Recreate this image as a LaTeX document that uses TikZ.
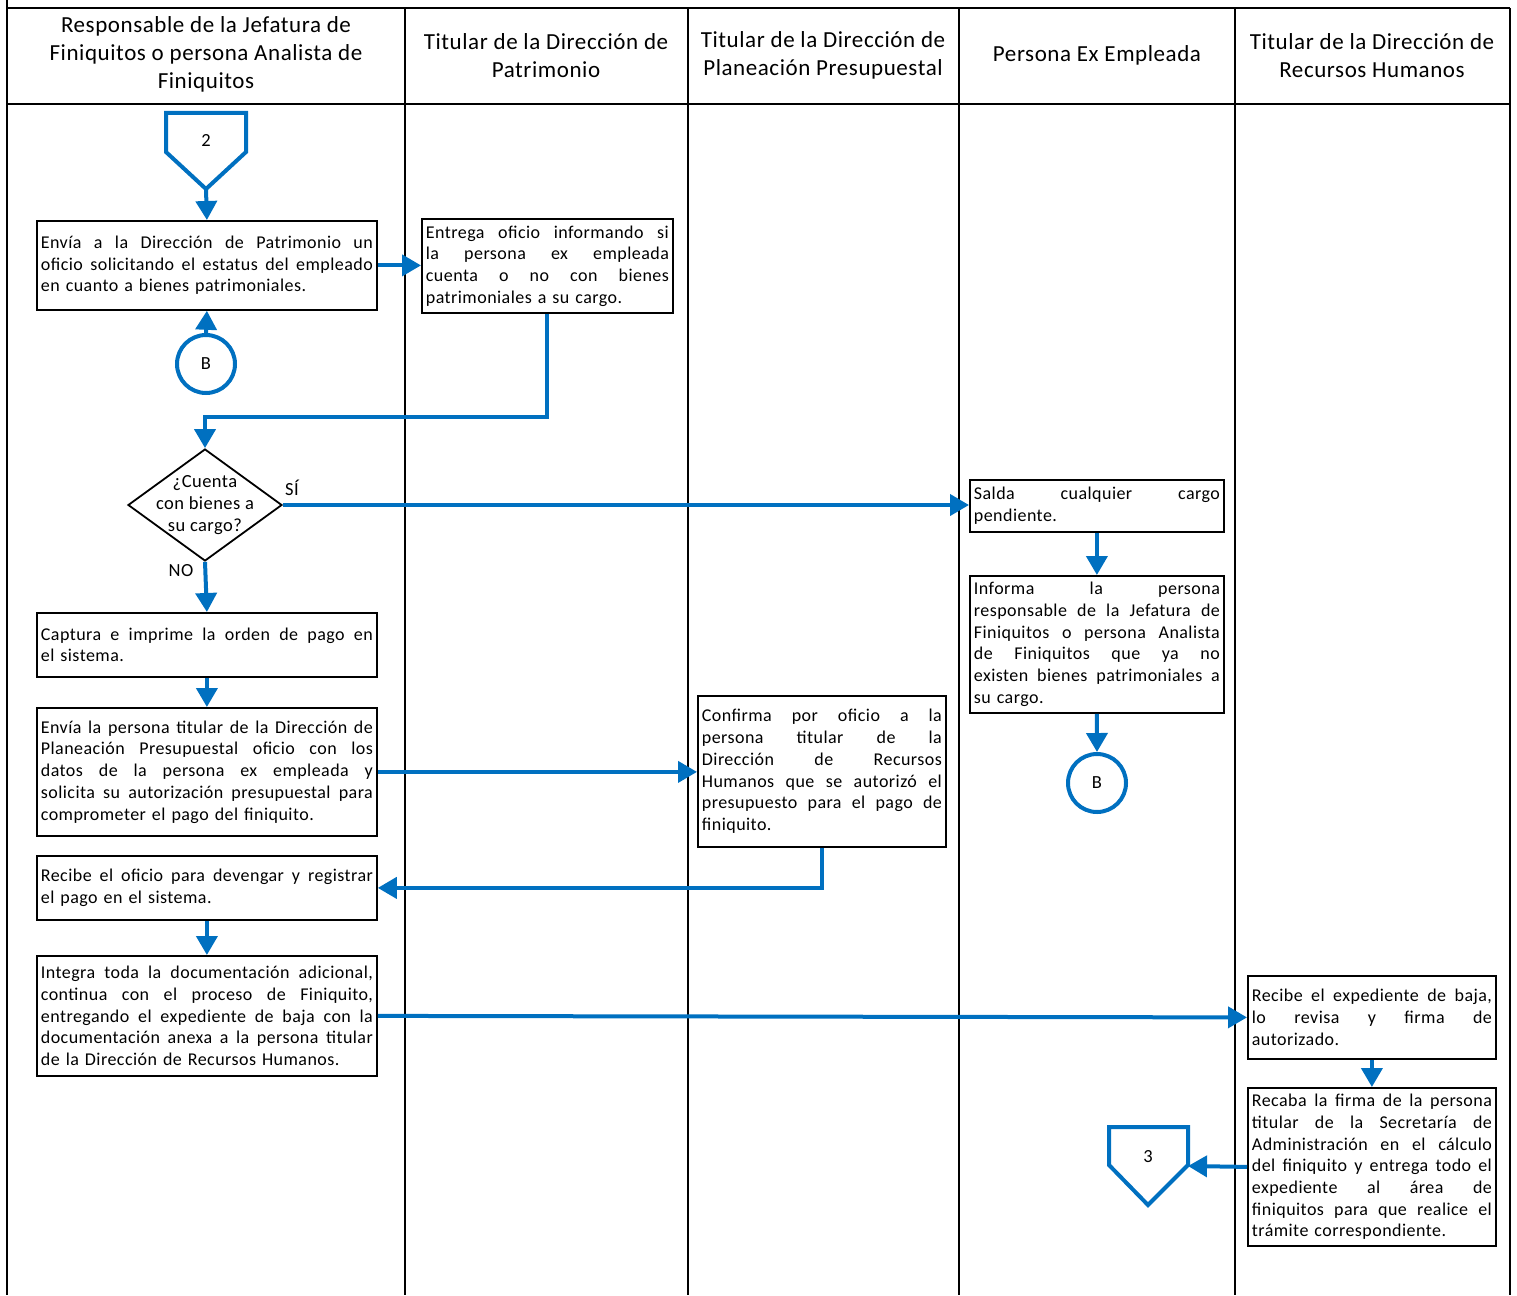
\documentclass[tikz,border=0pt]{standalone}
\usepackage{fontspec}
\setmainfont[LetterSpace=2.5]{Carlito}
\usetikzlibrary{arrows.meta,shapes.geometric}
\definecolor{flowblue}{RGB}{0,112,192}
\makeatletter
\def\jl@mark{@@}
\def\jl#1{\leavevmode\hbox to\hsize{\jl@first#1 @@ }\\}
\def\jl@first#1 {#1\jl@next}
\def\jl@next#1 {\def\jl@tmp{#1}\ifx\jl@tmp\jl@mark\else\hfill#1\expandafter\jl@next\fi}
\makeatother
\begin{document}
\begin{tikzpicture}[x=1pt,y=-1pt,
  lane/.style={line width=1.6pt,black},
  hdr/.style={align=center,font=\fontsize{23}{28}\selectfont,inner sep=0pt},
  box/.style={draw,line width=1.8pt,anchor=north west,inner xsep=4pt,inner ysep=0pt,align=left,font=\fontsize{18}{21.7}\selectfont},
  arr/.style={draw=flowblue,line width=4pt,-{Triangle[length=19pt,width=21pt]}},
  conn/.style={draw=flowblue,line width=4pt,circle,minimum size=58pt,inner sep=0pt,font=\fontsize{18.5}{20}\selectfont},
  offp/.style={draw=flowblue,line width=4pt,line join=miter},
  lbl/.style={font=\fontsize{18.5}{21.7}\selectfont,inner sep=0pt}
]
\useasboundingbox (0,0) rectangle (1517,1295);
% lanes
\draw[lane] (7,0) -- (7,1295);
\draw[lane] (7,8) -- (1510,8);
\draw[lane] (7,104) -- (1510,104);
\foreach \xx in {405,688,959,1235,1510} {\draw[lane] (\xx,8) -- (\xx,1295);}
% headers
\node[hdr] (h1) at (206,54) {Responsable de la Jefatura de\\Finiquitos o persona Analista de\\Finiquitos};
\node[hdr] (h2) at (546,56) {Titular de la Dirección de\\Patrimonio};
\node[hdr] (h3) at (823,55) {Titular de la Dirección de\\Planeación Presupuestal};
\node[hdr] (h4) at (1097,55) {Persona Ex Empleada};
\node[hdr] (h5) at (1372,56) {Titular de la Dirección de\\Recursos Humanos};
% off-page connector 2
\draw[offp] (166,113) -- (246,113) -- (246,152) -- (206,189) -- (166,152) -- cycle;
\node[lbl] (n2) at (206,140) {2};
\coordinate (p2) at (206,189);
% boxes
\node[box,text width=332pt,minimum height=89pt] (b1) at (36,220) {\jl{Envía a la Dirección de Patrimonio un}\jl{oficio solicitando el estatus del empleado}en cuanto a bienes patrimoniales.};
\node[box,text width=243pt,minimum height=94pt] (b2) at (421,218) {\jl{Entrega oficio informando si}\jl{la persona ex empleada}\jl{cuenta o no con bienes}patrimoniales a su cargo.};
\node[conn] (B1) at (206,364) {B};
\node[draw,line width=1.8pt,diamond,minimum width=154pt,minimum height=112pt,inner sep=0pt] (d) at (205,505) {};
\node[lbl,align=center] (dt) at (205,505) {¿Cuenta\\con bienes a\\su cargo?};
\node[lbl] (si) at (292,488) {SÍ};
\node[lbl] (no) at (181,571) {NO};
\node[box,text width=246pt,minimum height=52pt] (sal) at (969,479) {\jl{Salda cualquier cargo}pendiente.};
\node[box,text width=246pt,minimum height=137pt] (inf) at (969,575) {\jl{Informa la persona}\jl{responsable de la Jefatura de}\jl{Finiquitos o persona Analista}\jl{de Finiquitos que ya no}\jl{existen bienes patrimoniales a}su cargo.};
\node[conn] (B2) at (1097,783) {B};
\node[box,text width=332pt,minimum height=64pt] (cap) at (36,612) {\jl{Captura e imprime la orden de pago en}el sistema.};
\node[box,text width=332pt,minimum height=128pt] (env) at (36,707) {\jl{Envía la persona titular de la Dirección de}\jl{Planeación Presupuestal oficio con los}\jl{datos de la persona ex empleada y}\jl{solicita su autorización presupuestal para}comprometer el pago del finiquito.};
\node[box,text width=240pt,minimum height=151pt] (conf) at (697,695) {\jl{Confirma por oficio a la}\jl{persona titular de la}\jl{Dirección de Recursos}\jl{Humanos que se autorizó el}\jl{presupuesto para el pago de}finiquito.};
\node[box,text width=332pt,minimum height=64pt] (rec) at (36,855) {\jl{Recibe el oficio para devengar y registrar}el pago en el sistema.};
\node[box,text width=332pt,minimum height=120pt] (integ) at (36,955) {\jl{Integra toda la documentación adicional,}\jl{continua con el proceso de Finiquito,}\jl{entregando el expediente de baja con la}\jl{documentación anexa a la persona titular}de la Dirección de Recursos Humanos.};
\node[box,text width=240pt,minimum height=83pt] (rh1) at (1247,975) {\jl{Recibe el expediente de baja,}\jl{lo revisa y firma de}autorizado.};
\node[box,text width=240pt,minimum height=158pt] (rh2) at (1247,1087) {\jl{Recaba la firma de la persona}\jl{titular de la Secretaría de}\jl{Administración en el cálculo}\jl{del finiquito y entrega todo el}\jl{expediente al área de}\jl{finiquitos para que realice el}trámite correspondiente.};
% off-page connector 3
\draw[offp] (1109,1127) -- (1188,1127) -- (1188,1165) -- (1148,1205) -- (1109,1165) -- cycle;
\node[lbl] (n3) at (1148,1157) {3};
\coordinate (p3) at (1188,1166);
% connectors
\coordinate (k1) at (205,417);
\draw[arr] (p2) -- (b1.north);
\draw[arr] (B1.north) -- (b1.south);
\draw[arr] (b1.east) -- (b1.east -| b2.west);
\draw[arr] (b2.south) |- (k1) -- (d.north);
\draw[arr] (d.east) -- (d.east -| sal.west);
\draw[arr] (sal.south) -- (inf.north);
\draw[arr] (inf.south) -- (B2.north);
\draw[arr] (d.south) -- (cap.north);
\draw[arr] (cap.south) -- (env.north);
\draw[arr] (env.east) -- (env.east -| conf.west);
\draw[arr] (conf.south) |- (rec.east);
\draw[arr] (rec.south) -- (integ.north);
\draw[arr] (integ.east) -- (rh1.west);
\draw[arr] (rh1.south) -- (rh2.north);
\draw[arr] (rh2.west) -- (p3);
\end{tikzpicture}
\end{document}
